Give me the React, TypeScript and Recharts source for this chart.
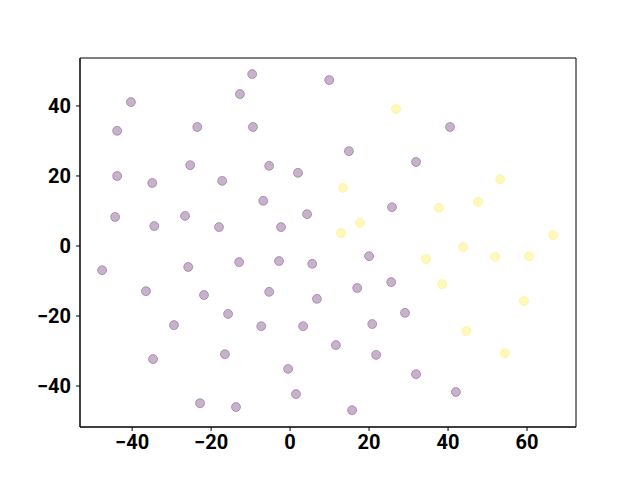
import { ScatterChart, Scatter, XAxis, YAxis, ReferenceArea } from 'recharts'

const purpleX = [-9.6, 9.9, -40.3, -12.7, -43.8, -23.5, -9.4, 40.5, 14.9, -25.3, -5.3, 31.9, -43.8, -34.9, -17.2, 2.0, -6.8, 25.8, -44.3, -26.6, 4.3, -34.4, -18, -2.3, 20, -47.6, -25.8, -12.9, -2.8, 5.6, 25.6, -36.5, -21.8, -5.3, 6.8, 17, -15.7, 29.1, -29.4, -7.3, 3.3, 20.8, 11.6, -34.7, -16.5, 21.8, -0.5, 31.9, 42, 1.5, -22.8, -13.7, 15.7]
const purpleY = [49.1, 47.4, 41.1, 43.4, 32.9, 34, 34, 34, 27.1, 23.1, 22.9, 24, 20, 18, 18.6, 20.9, 12.9, 11.1, 8.3, 8.6, 9.1, 5.7, 5.4, 5.4, -2.9, -6.9, -6, -4.6, -4.3, -5.1, -10.3, -12.9, -14, -13.1, -15.1, -12, -19.4, -19.1, -22.6, -22.9, -22.9, -22.3, -28.3, -32.3, -30.9, -31.1, -35.1, -36.6, -41.7, -42.3, -44.9, -46, -46.9]
const yellowX = [26.8, 13.4, 17.7, 12.9, 37.7, 47.6, 53.2, 66.6, 43.8, 34.4, 51.9, 60.5, 38.5, 59.2, 44.6, 54.4]
const yellowY = [39.1, 16.6, 6.6, 3.7, 10.9, 12.6, 19.1, 3.1, -0.3, -3.7, -3.1, -2.9, -10.9, -15.7, -24.3, -30.6]
const xTicks = [-40, -20, 0, 20, 40, 60]
const yTicks = [-40, -20, 0, 20, 40]

const purple = purpleX.map((x, i) => ({ x, y: purpleY[i] }))
const yellow = yellowX.map((x, i) => ({ x, y: yellowY[i] }))

const X_DOMAIN = [-53.2, 72.4]
const Y_DOMAIN = [-51.7, 53.7]

const fmt = (v: number) => String(v).replace('-', '\u2212')
const tickStyle = { fontFamily: 'Roboto', fontWeight: 'bold', fontSize: 20, fill: '#000' }

const dot = (color: string) => (props: any) => (
  <circle cx={props.cx} cy={props.cy} r={4.5} fill={color} fillOpacity={0.3}
    stroke={color} strokeOpacity={0.3} strokeWidth={1} />
)

export default function App() {
  return (
    <div style={{ width: 640, height: 480, background: '#fff' }}>
      <style>{'body{margin:0}'}</style>
      <ScatterChart width={640} height={480} margin={{ top: 58, right: 64, left: 0, bottom: 0 }}>
        <XAxis type="number" dataKey="x" domain={X_DOMAIN} ticks={xTicks} tickFormatter={fmt}
          height={53} tick={tickStyle} tickSize={4} tickMargin={4}
          stroke="#000" allowDataOverflow />
        <YAxis type="number" dataKey="y" domain={Y_DOMAIN} ticks={yTicks} tickFormatter={fmt}
          width={80} tick={tickStyle} tickSize={4} tickMargin={5}
          stroke="#000" allowDataOverflow />
        <ReferenceArea x1={X_DOMAIN[0]} x2={X_DOMAIN[1]} y1={Y_DOMAIN[0]} y2={Y_DOMAIN[1]}
          fill="none" stroke="#000" strokeWidth={1} ifOverflow="visible" />
        <Scatter data={purple} shape={dot('#440154')} isAnimationActive={false} />
        <Scatter data={yellow} shape={dot('#fde725')} isAnimationActive={false} />
      </ScatterChart>
    </div>
  )
}
